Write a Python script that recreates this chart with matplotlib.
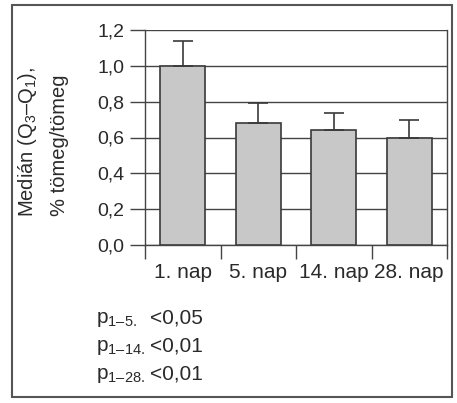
import matplotlib
matplotlib.use("Agg")
import matplotlib.pyplot as plt
from matplotlib.ticker import FixedLocator, NullFormatter, FixedFormatter
from matplotlib.patches import Rectangle
import numpy as np

categories = ["1. nap", "5. nap", "14. nap", "28. nap"]
medians = [1.00, 0.68, 0.64, 0.60]
upper = [1.14, 0.79, 0.735, 0.70]
yticks = [0.0, 0.2, 0.4, 0.6, 0.8, 1.0, 1.2]
ytick_labels = ["0,0", "0,2", "0,4", "0,6", "0,8", "1,0", "1,2"]
p_names = ["p$_{1\u20135.}$", "p$_{1\u201314.}$", "p$_{1\u201328.}$"]
p_values = ["<0,05", "<0,01", "<0,01"]

plt.rcParams['font.family'] = ['Liberation Sans', 'DejaVu Sans']
plt.rcParams['mathtext.fontset'] = 'custom'
plt.rcParams['mathtext.rm'] = 'Liberation Sans'
plt.rcParams['mathtext.it'] = 'Liberation Sans'
plt.rcParams['mathtext.default'] = 'regular'

W, H = 457, 403
fig = plt.figure(figsize=(W / 100, H / 100), dpi=100)
fig.patch.set_facecolor('white')

ax = fig.add_axes([145 / W, (H - 245) / H, 302 / W, 215 / H])

x = np.arange(len(categories))
med = np.array(medians)
err = np.array(upper) - med
ax.bar(x, med, width=0.6, color='#c8c8c8', edgecolor='#3a3a3a', linewidth=1.2, zorder=3)
ax.errorbar(x, med, yerr=[np.zeros_like(err), err], fmt='none', ecolor='#3a3a3a',
            elinewidth=1.2, capsize=7, capthick=1.2, zorder=4)

ax.set_xlim(-0.5, 3.5)
ax.set_ylim(0, 1.2)
ax.set_axisbelow(True)
ax.yaxis.grid(True, color='#444444', linewidth=1.0)

ax.yaxis.set_major_locator(FixedLocator(yticks))
ax.yaxis.set_major_formatter(FixedFormatter(ytick_labels))
ax.tick_params(axis='y', direction='out', length=11, width=1.0, color='#444444',
               labelsize=14, pad=4, labelcolor='#2a2a2a')

ax.xaxis.set_major_locator(FixedLocator([-0.5, 0.5, 1.5, 2.5, 3.5]))
ax.xaxis.set_major_formatter(NullFormatter())
ax.xaxis.set_minor_locator(FixedLocator(list(x)))
ax.xaxis.set_minor_formatter(FixedFormatter(categories))
ax.tick_params(axis='x', which='major', direction='out', length=10, width=1.0, color='#444444')
ax.tick_params(axis='x', which='minor', length=0, labelsize=15, pad=13, labelcolor='#2a2a2a')

for s in ['left', 'right', 'top', 'bottom']:
    ax.spines[s].set_color('#444444')
    ax.spines[s].set_linewidth(1.0)
ax.spines['top'].set_visible(False)

# y label, two lines
fig.text(28 / W, 1 - 142 / H, "Medián (Q$_3$\u2013Q$_1$),", rotation=90, ha='center', va='center',
         fontsize=14.5, color='#2a2a2a')
fig.text(60 / W, 1 - 145 / H, "% tömeg/tömeg", rotation=90, ha='center', va='center',
         fontsize=14.5, color='#2a2a2a')

# p-values
baselines = [323, 351, 379]
for name, val, b in zip(p_names, p_values, baselines):
    fig.text(96 / W, 1 - b / H, name, ha='left', va='baseline', fontsize=15, color='#2a2a2a')
    fig.text(150 / W, 1 - b / H, val, ha='left', va='baseline', fontsize=15, color='#2a2a2a')

# outer frame
fig.patches.append(Rectangle((12 / W, 6 / H), 440 / W, 392 / H, transform=fig.transFigure,
                             fill=False, edgecolor='#555555', linewidth=1.5))

fig.savefig("out.png", dpi=100)
